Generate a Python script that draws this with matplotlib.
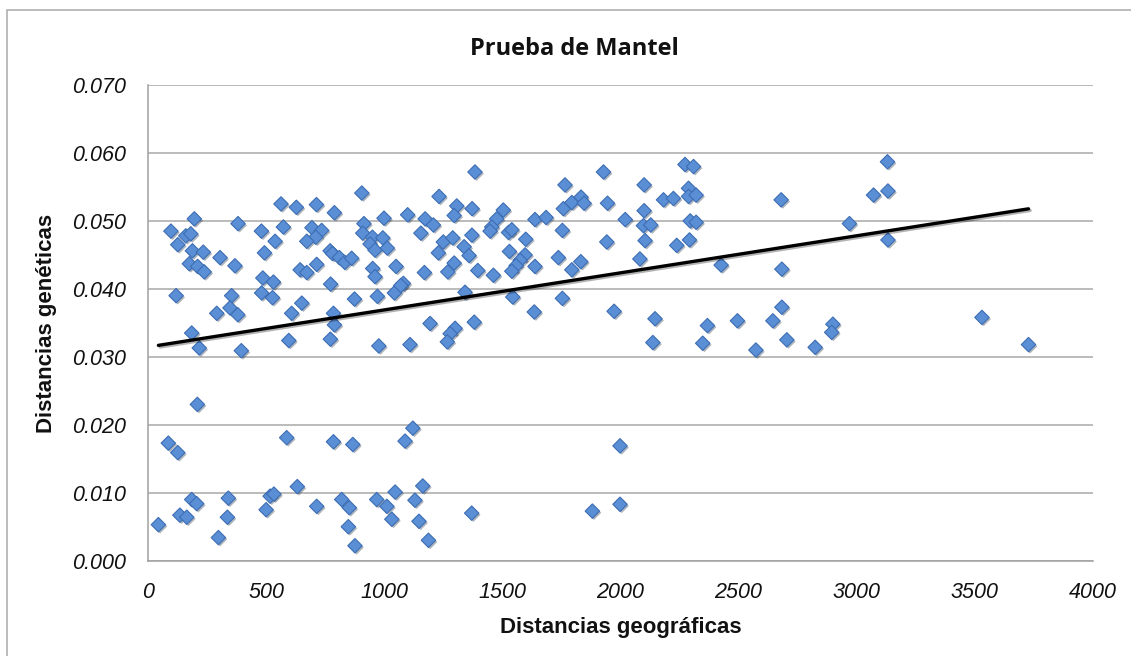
"""Prueba de Mantel: distancias geográficas vs. genéticas, con recta de tendencia."""

import matplotlib
matplotlib.use("Agg")
import matplotlib.pyplot as plt
import matplotlib.patheffects as pe
from matplotlib.patches import Rectangle
import numpy as np

# pares (distancia geográfica, distancia genética)
geo = [
    905, 563, 628, 713, 789, 196, 381, 97, 160, 181, 126, 188, 234, 175, 210, 238,
    305, 368, 480, 573, 538, 493, 694, 735, 710, 672, 771, 781, 810, 833, 862, 644,
    672, 714, 914, 999, 909, 950, 994, 940, 961, 1013, 951, 961, 1050, 119, 354, 291,
    347, 380, 486, 531, 481, 527, 651, 608, 773, 785, 789, 874, 971, 1043, 185, 217,
    395, 596, 772, 977,
    1384, 1232, 1307, 1296, 1372, 1099, 1173, 1208, 1155, 1250, 1290, 1371, 1229, 1338,
    1359, 1296, 1269, 1396, 1462, 1170, 1504, 1476, 1455, 1448, 1526, 1540, 1599, 1530,
    1596, 1575, 1558, 1540, 1638, 1638, 1685, 1754, 1765, 1758, 1794, 1833, 1846, 1928,
    1945, 2020, 1942, 1737, 1832, 1794, 2082, 2100, 2100, 2097, 2104, 1081, 1070, 1342,
    1544, 1754, 1194, 1300, 1279, 1267, 1381, 1109, 1635, 1973,
    2273, 2309, 3130, 2182, 2224, 2288, 2288, 2320, 2680, 3071, 3132, 2128, 2295, 2320,
    2969, 2238, 2292, 3132, 2426, 2683, 2146, 2137, 2368, 2348, 2495, 2573, 2645, 2683,
    2704, 2824, 2899, 2894, 3530, 3727,
    209, 86, 126, 587, 785, 867, 44, 135, 164, 185, 206, 298, 340, 336, 500, 517, 533,
    632, 714, 820, 852, 848, 876, 968, 1011, 1032, 1046,
    1121, 1088, 1998, 1163, 1130, 1147, 1187, 1370, 1881, 1998,
]
gen = [
    .0541, .0525, .0520, .0524, .0512, .0503, .0496, .0485, .0478, .0481, .0465, .0456,
    .0454, .0437, .0433, .0425, .0446, .0434, .0485, .0491, .0470, .0453, .0490, .0486,
    .0476, .0470, .0456, .0452, .0446, .0439, .0445, .0428, .0424, .0436, .0496, .0504,
    .0482, .0476, .0475, .0466, .0457, .0460, .0430, .0418, .0433, .0390, .0390, .0364,
    .0372, .0362, .0416, .0410, .0394, .0387, .0379, .0364, .0407, .0364, .0347, .0385,
    .0389, .0394, .0335, .0313, .0309, .0324, .0326, .0316,
    .0572, .0536, .0522, .0508, .0518, .0509, .0503, .0494, .0482, .0469, .0475, .0479,
    .0453, .0462, .0449, .0438, .0425, .0427, .0420, .0424, .0516, .0503, .0491, .0485,
    .0483, .0487, .0473, .0455, .0450, .0442, .0434, .0426, .0433, .0502, .0505, .0486,
    .0553, .0518, .0527, .0535, .0526, .0572, .0526, .0502, .0469, .0446, .0440, .0428,
    .0444, .0553, .0515, .0493, .0471, .0408, .0405, .0395, .0388, .0386, .0349, .0342,
    .0334, .0322, .0351, .0318, .0366, .0367,
    .0583, .0580, .0587, .0531, .0533, .0548, .0536, .0538, .0531, .0538, .0544, .0494,
    .0500, .0498, .0496, .0464, .0472, .0472, .0435, .0429, .0356, .0321, .0346, .0320,
    .0353, .0310, .0353, .0373, .0325, .0314, .0348, .0336, .0358, .0318,
    .0230, .0173, .0159, .0181, .0175, .0171, .0053, .0067, .0064, .0090, .0084, .0034,
    .0092, .0064, .0075, .0095, .0098, .0109, .0080, .0090, .0078, .0050, .0022, .0090,
    .0080, .0061, .0101,
    .0195, .0176, .0169, .0110, .0089, .0058, .0030, .0070, .0073, .0083,
]

x_ticks = [0, 500, 1000, 1500, 2000, 2500, 3000, 3500, 4000]
y_ticks = [0.000, 0.010, 0.020, 0.030, 0.040, 0.050, 0.060, 0.070]

W, H = 1131, 656
fig = plt.figure(figsize=(W / 100, H / 100), dpi=100)
fig.patches.append(Rectangle((7 / W, -0.01), 1.1, 1 - 10 / H + 0.01,
                             transform=fig.transFigure, fill=False,
                             edgecolor="#b0b0b0", linewidth=1.2))

ax = fig.add_axes([148 / W, 1 - 560.7 / H, (1093 - 148) / W, (560.7 - 85) / H])
ax.set_xlim(0, 4000)
ax.set_ylim(0, 0.070)
ax.set_xticks(x_ticks)
ax.set_yticks(y_ticks)
ax.set_xticklabels([str(t) for t in x_ticks])
ax.set_yticklabels([f"{t:.3f}" for t in y_ticks])

tick_font = dict(family="Liberation Sans", style="italic", size=15.5, color="#111")
for lab in ax.get_xticklabels() + ax.get_yticklabels():
    lab.set(**tick_font)
ax.tick_params(axis="both", length=0)
ax.tick_params(axis="y", pad=16)
ax.tick_params(axis="x", pad=15)

ax.grid(True, axis="y", color="#a8a8a8", linewidth=1.1)
ax.set_axisbelow(True)
for side in ("top", "right"):
    ax.spines[side].set_visible(False)
for side in ("left", "bottom"):
    ax.spines[side].set_color("#a0a0a0")
    ax.spines[side].set_linewidth(1.1)

ax.scatter(geo, gen, marker="D", s=54, facecolor="#5a8fd6", edgecolor="#3d6db3",
           linewidth=0.8, zorder=3,
           path_effects=[pe.SimplePatchShadow(offset=(1.2, -1.2), alpha=0.35),
                         pe.Normal()])

# recta de tendencia lineal (mínimos cuadrados), como en Excel
slope, intercept = np.polyfit(geo, gen, 1)
xs = np.array([min(geo), max(geo)])
ax.plot(xs, slope * xs + intercept, color="black", linewidth=2.4, zorder=4,
        solid_capstyle="round",
        path_effects=[pe.SimpleLineShadow(offset=(1.2, -1.2), alpha=0.3),
                      pe.Normal()])

fig.text(574 / W, 1 - 55 / H, "Prueba de Mantel", ha="center", va="baseline",
         family="Open Sans", weight="bold", size=17, color="#111")
fig.text(47 / W, 1 - 323 / H, "Distancias genéticas", ha="center", va="center",
         rotation=90, family="Liberation Sans", weight="bold", size=16, color="#111")
fig.text(621 / W, 1 - 627 / H, "Distancias geográficas", ha="center", va="center",
         family="Liberation Sans", weight="bold", size=16, color="#111")

fig.savefig("out.png", dpi=100)
